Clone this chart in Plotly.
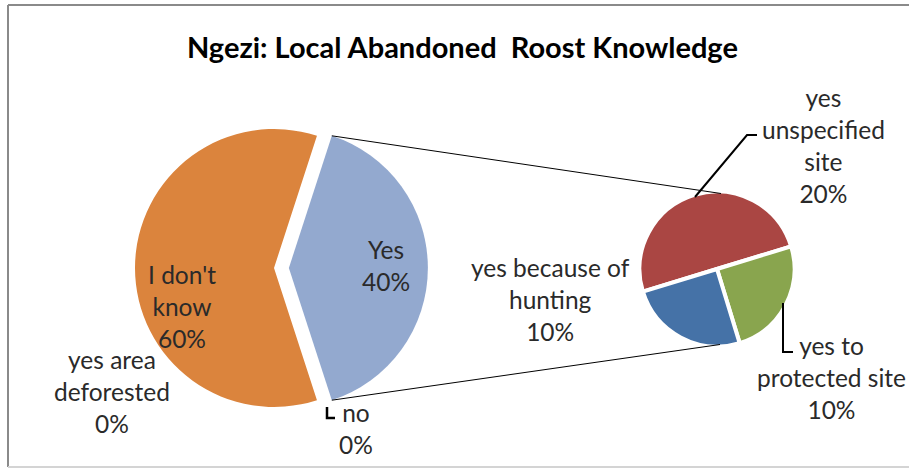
import math
import plotly.graph_objects as go

# ---- data (% of respondents) ----
primary_labels = ["I don't know", "Yes"]
primary_label_text = ["I don't<br>know", "Yes"]
zero_labels = ["yes area deforested", "no"]
zero_label_text = ["yes area<br>deforested", "no"]
zero_values = [0, 0]
unknown_value = 60

secondary_labels = ["yes unspecified site", "yes to protected site", "yes because of hunting"]
secondary_label_text = ["yes<br>unspecified<br>site", "yes to<br>protected site", "yes because of<br>hunting"]
secondary_values = [20, 10, 10]

primary_values = [unknown_value, sum(secondary_values)]

W, H = 909, 468
FONT = "Lato, Calibri, sans-serif"

primary_colors = ["#DB843D", "#93A9CF"]
secondary_colors = ["#AA4643", "#89A54E", "#4572A7"]


def px(x):
    return x / W


def py(y):
    return 1 - y / H


# ---- geometry of the two pies (pixels) ----
main_cx, main_cy, main_r = 274, 268, 139
main_pull = 0.107
main_rot = 162
main_box = main_r * (2 + 2 * main_pull)

sub_cx, sub_cy, sub_r = 717, 269, 77.5
sub_rot = 253
sub_box = 2 * sub_r

fig = go.Figure()

fig.add_trace(go.Pie(
    labels=primary_labels, values=primary_values, sort=False,
    direction="clockwise", rotation=main_rot,
    pull=[0, main_pull],
    marker=dict(colors=primary_colors, line=dict(width=0)),
    textinfo="none", hoverinfo="skip", showlegend=False,
    domain=dict(x=[px(main_cx - main_box / 2), px(main_cx + main_box / 2)],
                y=[py(main_cy + main_box / 2), py(main_cy - main_box / 2)]),
))

fig.add_trace(go.Pie(
    labels=secondary_labels, values=secondary_values, sort=False,
    direction="clockwise", rotation=sub_rot,
    marker=dict(colors=secondary_colors, line=dict(width=4, color="white")),
    textinfo="none", hoverinfo="skip", showlegend=False,
    domain=dict(x=[px(sub_cx - sub_box / 2), px(sub_cx + sub_box / 2)],
                y=[py(sub_cy + sub_box / 2), py(sub_cy - sub_box / 2)]),
))

# ---- connector lines from the exploded "Yes" slice to the secondary pie ----
total = sum(primary_values)
yes_start = main_rot + 360 * primary_values[0] / total
yes_end = yes_start + 360 * primary_values[1] / total
yes_mid = math.radians((yes_start + yes_end) / 2)
ox = main_cx + main_pull * main_r * math.sin(yes_mid)
oy = main_cy - main_pull * main_r * math.cos(yes_mid)


def edge(angle_deg):
    a = math.radians(angle_deg)
    return ox + main_r * math.sin(a), oy - main_r * math.cos(a)


top_pt = edge(yes_start)
bot_pt = edge(yes_end)
vis_r = sub_r - 2
shapes = [
    dict(type="line", xref="paper", yref="paper",
         x0=px(top_pt[0]), y0=py(top_pt[1]), x1=px(sub_cx + 4), y1=py(sub_cy - vis_r),
         line=dict(color="black", width=1)),
    dict(type="line", xref="paper", yref="paper",
         x0=px(bot_pt[0]), y0=py(bot_pt[1]), x1=px(sub_cx + 3), y1=py(sub_cy + vis_r),
         line=dict(color="black", width=1)),
]


def poly(points, width=2):
    d = "M " + " L ".join(f"{px(x):.5f},{py(y):.5f}" for x, y in points)
    return dict(type="path", xref="paper", yref="paper", path=d,
                line=dict(color="black", width=width))


# leader lines for outside labels
shapes.append(poly([(695, 197), (747, 135), (757, 135)]))
shapes.append(poly([(783, 303), (783, 352), (793, 352)]))
shapes.append(poly([(327, 407), (327, 418), (335, 418)], width=2.5))

# chart frame
shapes.append(dict(type="line", xref="paper", yref="paper", x0=px(8), y0=py(5), x1=1, y1=py(5),
                   line=dict(color="#8a8a8a", width=2)))
shapes.append(dict(type="line", xref="paper", yref="paper", x0=px(8), y0=py(5), x1=px(8), y1=py(467),
                   line=dict(color="#8a8a8a", width=2)))
shapes.append(dict(type="line", xref="paper", yref="paper", x0=px(8), y0=py(467), x1=1, y1=py(467),
                   line=dict(color="#d4d4d4", width=2)))

# ---- data labels ----
label_font = dict(family=FONT, size=24.5, color="#2a2a2a")


def pct(v):
    return f"{v:g}%"


label_specs = [
    (primary_label_text[0], primary_values[0], 182, 306),
    (primary_label_text[1], primary_values[1], 386, 265),
    (zero_label_text[0], zero_values[0], 112, 391),
    (zero_label_text[1], zero_values[1], 356, 428),
    (secondary_label_text[0], secondary_values[0], 823, 145),
    (secondary_label_text[1], secondary_values[1], 831, 377),
    (secondary_label_text[2], secondary_values[2], 550, 299),
]

annotations = [
    dict(text=f"{name}<br>{pct(v)}", x=px(x), y=py(y), xref="paper", yref="paper",
         xanchor="center", yanchor="middle", align="center", showarrow=False,
         font=label_font)
    for name, v, x, y in label_specs
]

annotations.append(dict(
    text="<b>Ngezi: Local Abandoned\u00a0 Roost Knowledge</b>",
    x=px(462), y=py(47), xref="paper", yref="paper",
    xanchor="center", yanchor="middle", showarrow=False,
    font=dict(family=FONT, size=29, color="black"),
))

fig.update_layout(
    width=W, height=H, autosize=False,
    margin=dict(l=0, r=0, t=0, b=0),
    paper_bgcolor="white", plot_bgcolor="white",
    shapes=shapes, annotations=annotations,
    showlegend=False,
)

fig.write_html("out.html")
